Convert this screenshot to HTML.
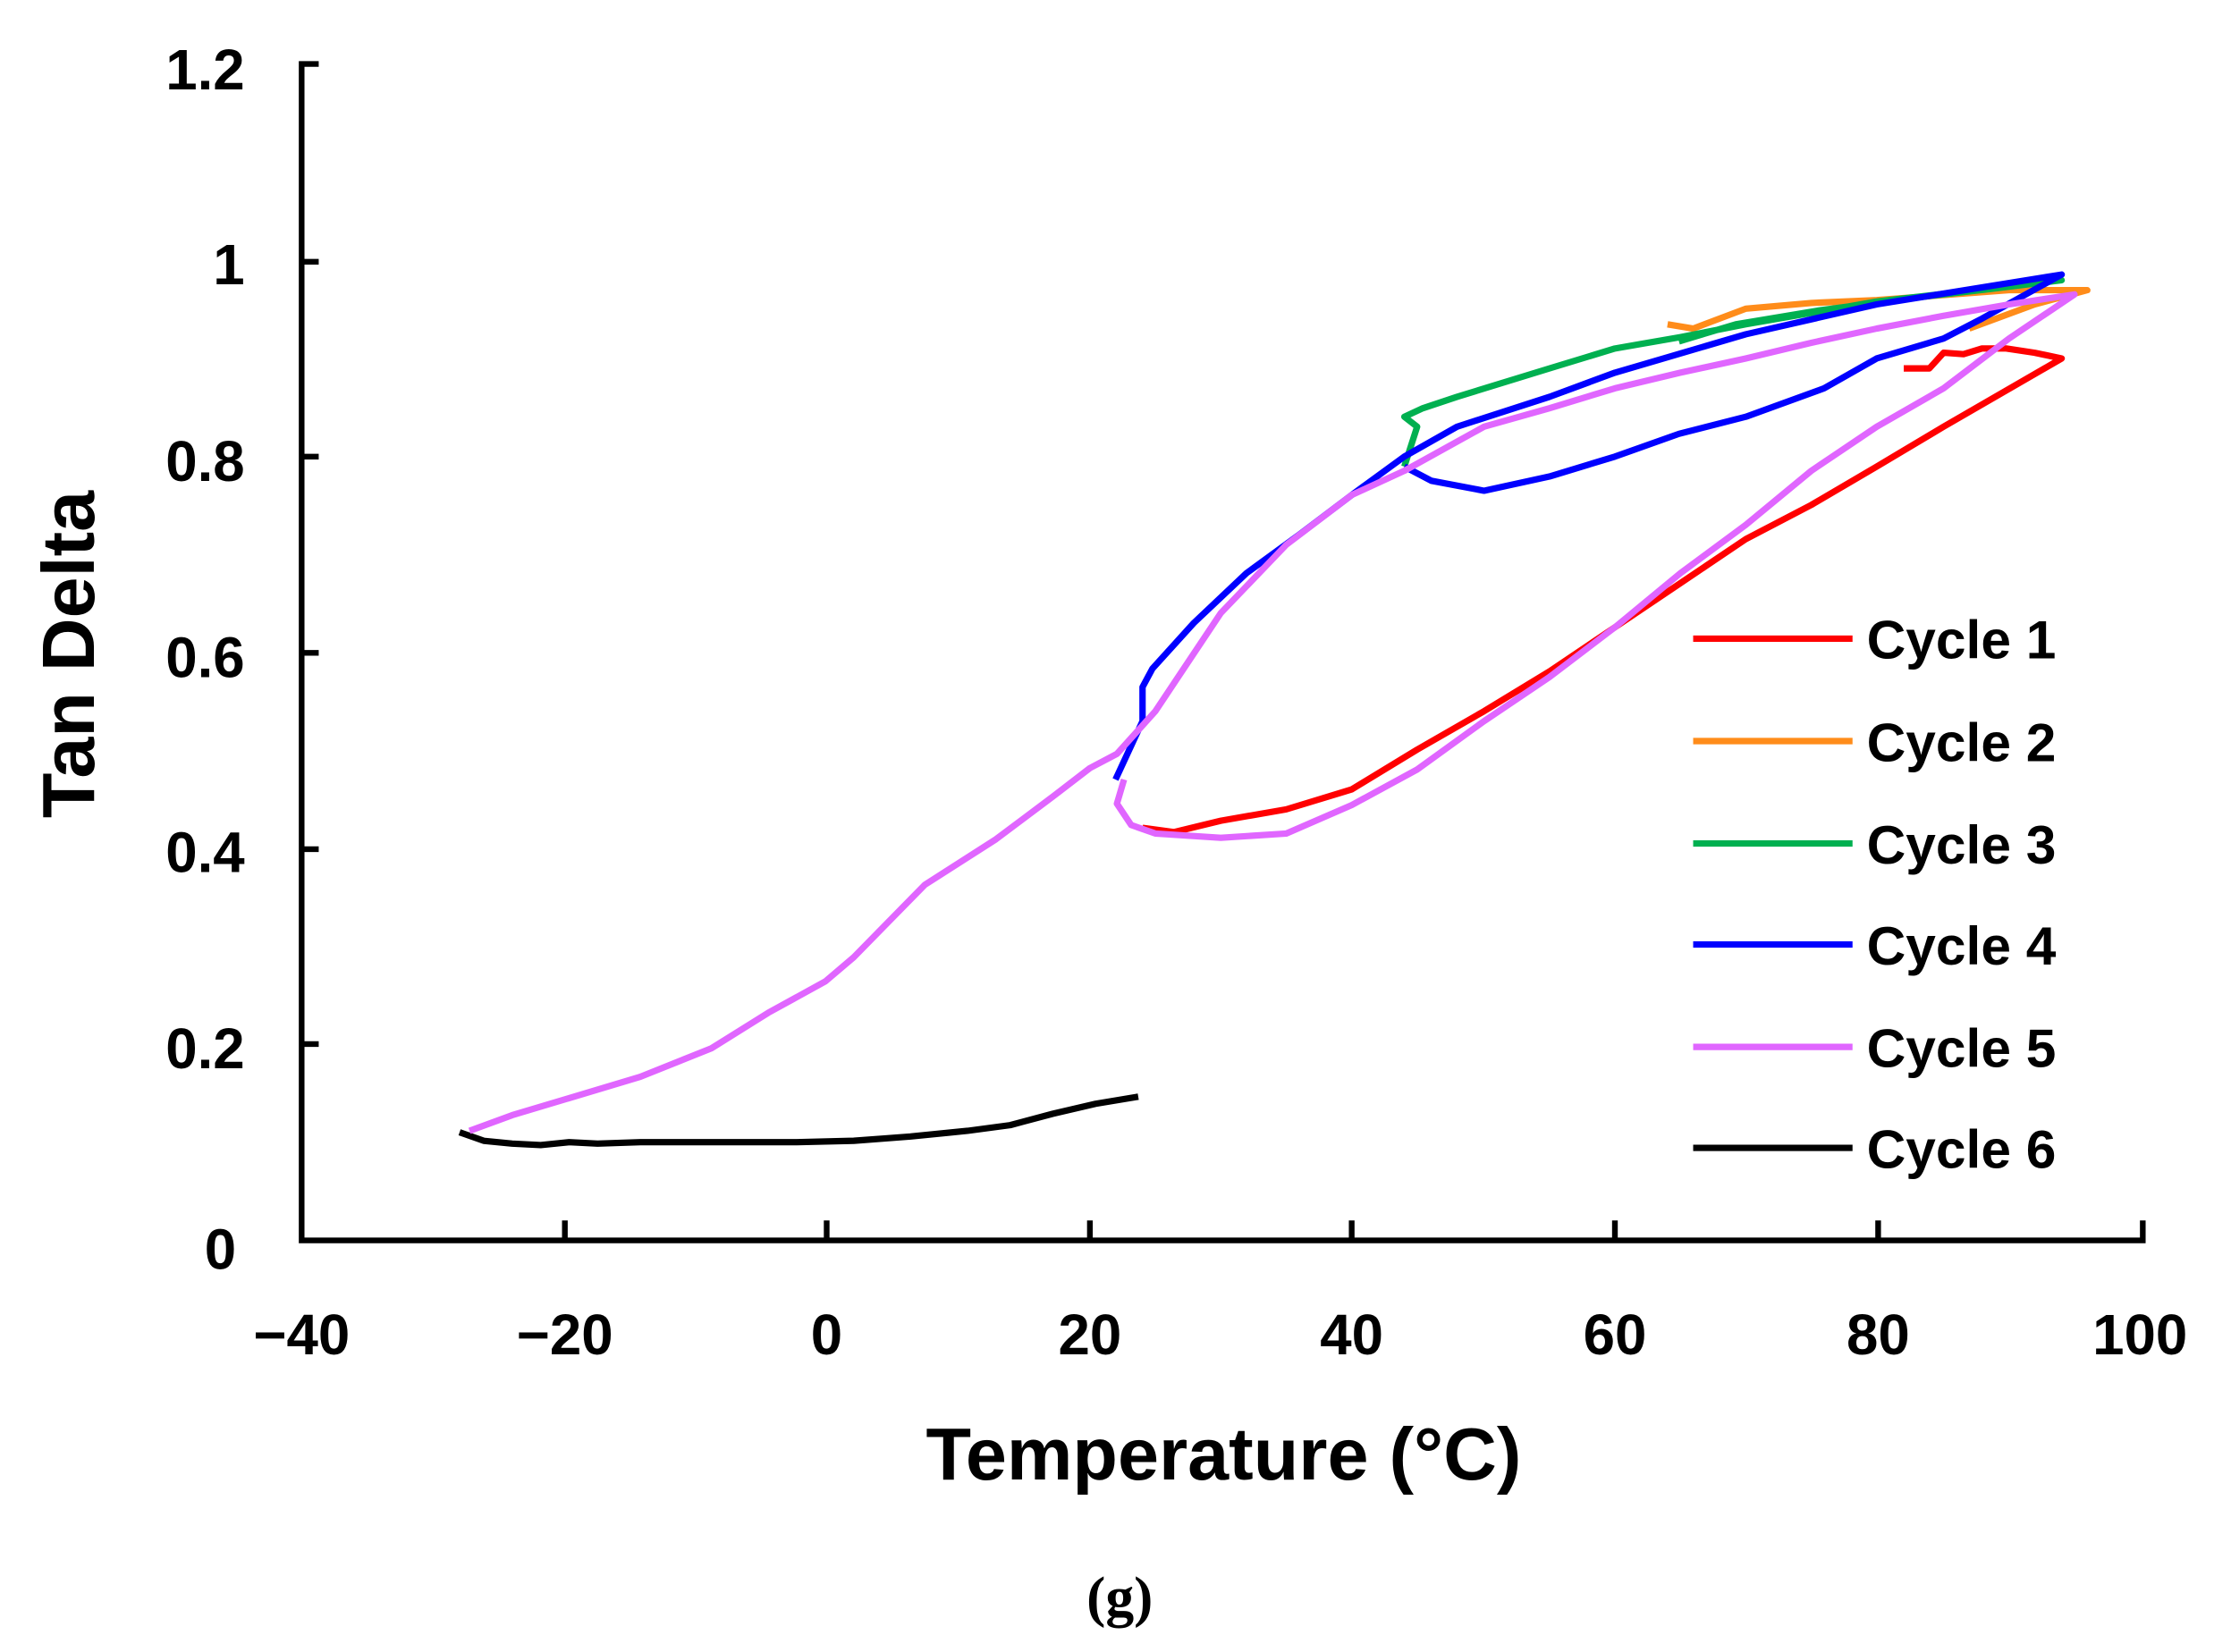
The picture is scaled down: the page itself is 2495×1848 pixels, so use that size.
<!DOCTYPE html>
<html><head><meta charset="utf-8"><style>html,body{margin:0;padding:0;background:#fff}svg{display:block}</style></head>
<body>
<svg width="2495" height="1848" viewBox="0 0 1568 1161.4" preserveAspectRatio="none" xmlns="http://www.w3.org/2000/svg" font-family="Liberation Sans, sans-serif" font-weight="bold">
<rect width="1568" height="1162" fill="#fff"/>
<g stroke="#000" stroke-width="4" fill="none">
<path d="M224,45 H212 V872 H1506 V858"/>
<path d="M212,184 H224 M212,321 H224 M212,459 H224 M212,597 H224 M212,734 H224"/>
<path d="M397,872 V858 M581,872 V858 M766,872 V858 M950,872 V858 M1135,872 V858 M1320,872 V858"/>
</g>
<g font-size="40" text-anchor="end" fill="#000">
<text x="172" y="63">1.2</text><text x="172" y="200">1</text><text x="172" y="338">0.8</text>
<text x="172" y="476">0.6</text><text x="172" y="613">0.4</text><text x="172" y="751">0.2</text><text x="166" y="892">0</text>
</g>
<g font-size="40" text-anchor="middle" fill="#000">
<text x="212" y="952">−40</text><text x="397" y="952">−20</text><text x="581" y="952">0</text><text x="766" y="952">20</text>
<text x="950" y="952">40</text><text x="1135" y="952">60</text><text x="1320" y="952">80</text><text x="1504" y="952">100</text>
</g>
<text x="860" y="1040" font-size="52" text-anchor="middle">Temperature (°C)</text>
<text transform="translate(66,460) rotate(-90)" font-size="52" text-anchor="middle">Tan Delta</text>
<text x="787" y="1136" font-size="40" text-anchor="middle" font-family="Liberation Serif, serif">(g)</text>
<g fill="none" stroke-width="4.5" stroke-linejoin="round">
<polyline stroke="#000" points="323,796 340,802 360,804 380,805 400,803 420,804 450,803 500,803 560,803 600,802 640,799 680,795 710,791 740,783 770,776 800,771"/>
<polyline stroke="#ff0000" points="803,582 825,585 858,577 904,569 950,555 996,527 1043,500 1089,472 1135,441 1181,410 1227,379 1273,355 1319,328 1366,300 1449,252 1430,248 1410,245 1393,245 1380,249 1366,248 1356,259 1338,259"/>
<polyline stroke="#ff8c1a" points="1172,228 1190,231 1227,217 1273,213 1319,211 1412,204 1467,204 1430,214 1384,231"/>
<polyline stroke="#00b050" points="987,328 996,300 987,293 1000,287 1024,279 1089,259 1135,245 1181,237 1227,228 1319,212 1449,197 1400,203 1340,210 1280,218 1220,228 1180,240"/>
<polyline stroke="#0000ff" points="784,548 803,507 803,483 810,470 839,438 876,403 913,376 950,348 987,321 1024,300 1089,279 1135,262 1227,235 1319,214 1449,193 1393,224 1366,238 1319,252 1282,273 1227,293 1180,305 1135,321 1089,335 1043,345 1006,338 987,328"/>
<polyline stroke="#e066ff" points="790,548 785,565 795,580 812,586 858,589 904,586 950,566 996,541 1043,507 1089,476 1135,441 1181,403 1227,369 1273,331 1319,300 1366,273 1412,238 1458,207 1412,214 1366,222 1319,231 1273,241 1227,252 1181,262 1135,273 1089,287 1043,300 987,331 950,348 904,383 858,431 812,500 785,530 766,540 740,560 700,590 650,622 600,673 580,690 540,712 500,737 450,757 400,772 360,784 330,795"/>
</g>
<g stroke-width="4.5">
<line x1="1190" y1="449" x2="1302" y2="449" stroke="#ff0000"/>
<line x1="1190" y1="521" x2="1302" y2="521" stroke="#ff8c1a"/>
<line x1="1190" y1="593" x2="1302" y2="593" stroke="#00b050"/>
<line x1="1190" y1="664" x2="1302" y2="664" stroke="#0000ff"/>
<line x1="1190" y1="736" x2="1302" y2="736" stroke="#e066ff"/>
<line x1="1190" y1="807" x2="1302" y2="807" stroke="#000"/>
</g>
<g font-size="38" fill="#000">
<text x="1312" y="463">Cycle 1</text><text x="1312" y="535">Cycle 2</text><text x="1312" y="607">Cycle 3</text>
<text x="1312" y="678">Cycle 4</text><text x="1312" y="750">Cycle 5</text><text x="1312" y="821">Cycle 6</text>
</g>
</svg>
</body></html>
